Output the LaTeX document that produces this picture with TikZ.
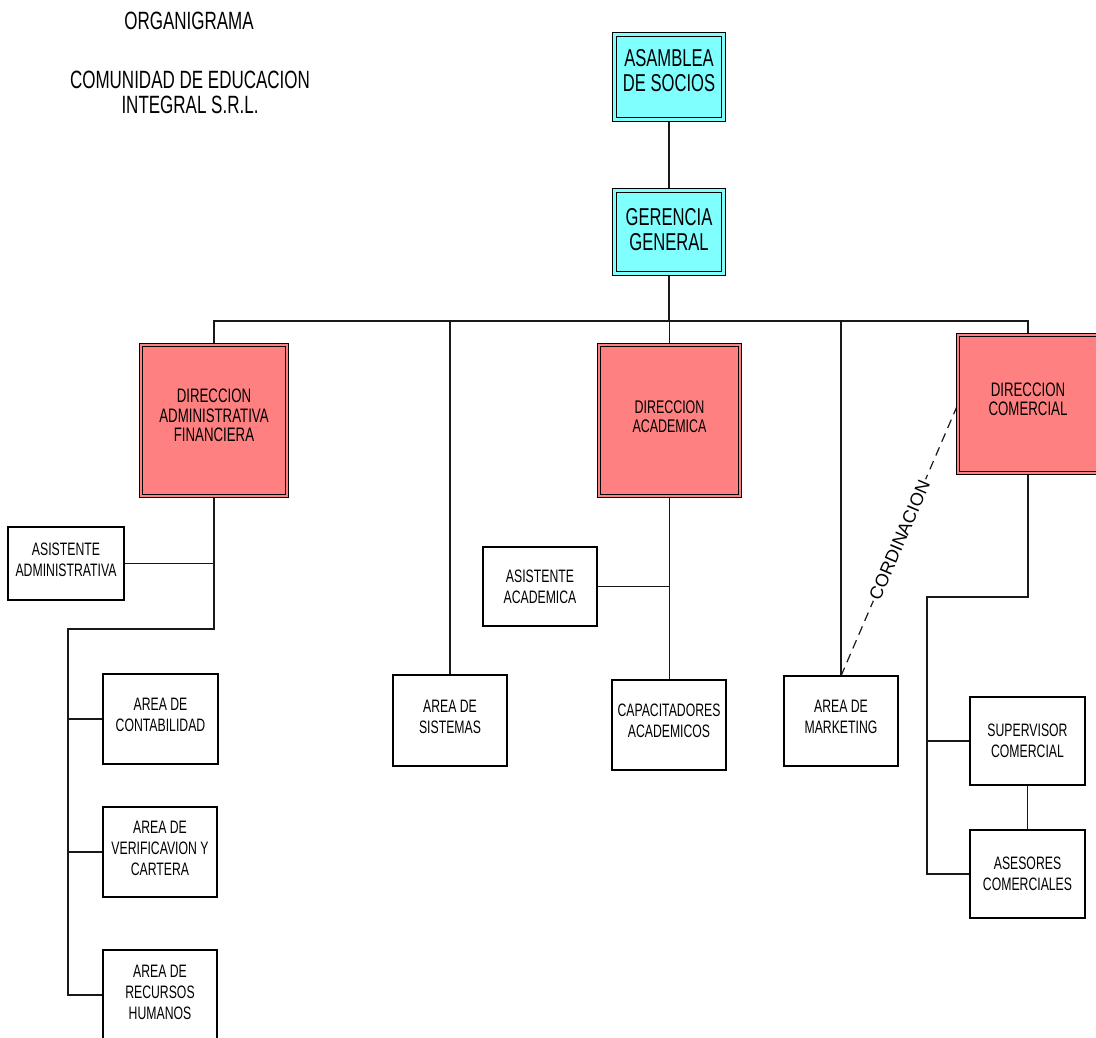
\documentclass[tikz,border=0pt]{standalone}
\usepackage{fontspec}
\setmainfont{Liberation Sans}[FakeStretch=0.68]
\newfontfamily\slantlabel{Liberation Sans}
\usetikzlibrary{backgrounds}
\definecolor{boardcyan}{HTML}{80FFFF}
\definecolor{dirred}{HTML}{FF8080}
% invisible strut that moves a box's text upward by half its depth
\newcommand\txtlift[1]{\rule[-#1]{0pt}{#1}}

\begin{document}
\begin{tikzpicture}[x=1pt,y=-1pt,
  link/.style={line width=1.4pt, draw=black!90},
  unitbox/.style={draw=black, line width=1.4pt, fill=white, inner sep=0pt,
    outer sep=0pt, align=center, minimum width=115pt, minimum height=90pt,
    font=\fontsize{18}{20.7}\selectfont},
  topbox/.style={draw=black, line width=1.2pt, double=boardcyan,
    double distance=2.8pt, fill=boardcyan, inner sep=0pt, outer sep=0pt,
    align=center, minimum width=108.8pt,
    font=\fontsize{24.4}{25}\selectfont},
  dirbox/.style={draw=black, line width=1pt, double=dirred,
    double distance=2pt, fill=dirred, inner sep=0pt, outer sep=0pt,
    align=center, font=\fontsize{19.5}{19.5}\selectfont},
  titletext/.style={align=center, inner sep=0pt,
    font=\fontsize{25}{25}\selectfont},
  coordlabel/.style={fill=white, inner sep=2pt, sloped,
    font=\slantlabel\fontsize{18}{18}\selectfont}
]
\useasboundingbox (0,0) rectangle (1096,1038);
\clip (0,0) rectangle (1096,1038);

% heading
\node[titletext] (title) at (189,21) {ORGANIGRAMA};
\node[titletext] (company) at (190,92.5) {COMUNIDAD DE EDUCACION\\INTEGRAL S.R.L.};

% board and general management
\node[topbox, minimum height=84.8pt] (asamblea) at (669,77)
  {ASAMBLEA\\DE SOCIOS\txtlift{14pt}};
\node[topbox, minimum height=82.8pt] (gerencia) at (669,232)
  {GERENCIA\\GENERAL\txtlift{6pt}};

% directorates
\node[dirbox, minimum width=146pt, minimum height=151pt] (daf) at (214,420.5)
  {DIRECCION\\ADMINISTRATIVA\\FINANCIERA\txtlift{10pt}};
\node[dirbox, minimum width=141pt, minimum height=151pt,
  font=\fontsize{18.3}{19.5}\selectfont] (da) at (669.5,420.5)
  {DIRECCION\\ACADEMICA\txtlift{8pt}};
\node[dirbox, minimum width=140pt, minimum height=138pt] (dc) at (1028,404)
  {DIRECCION\\COMERCIAL\txtlift{10pt}};

% administrative and financial units
\node[unitbox, minimum width=116pt, minimum height=73pt] (asisadm) at (66,563.5)
  {ASISTENTE\\ADMINISTRATIVA\txtlift{7pt}};
\node[unitbox] (contab) at (160.5,719) {AREA DE\\CONTABILIDAD\txtlift{8pt}};
\node[unitbox, minimum width=114pt] (verif) at (160,852)
  {AREA DE\\VERIFICAVION Y\\CARTERA\txtlift{7pt}};
\node[unitbox, minimum width=114pt] (rrhh) at (160,995)
  {AREA DE\\RECURSOS\\HUMANOS\txtlift{5pt}};

% independent areas
\node[unitbox, minimum width=114pt, minimum height=91pt] (sistemas) at (450,720.5)
  {AREA DE\\SISTEMAS\txtlift{7pt}};
\node[unitbox, minimum width=114pt] (marketing) at (841,721)
  {AREA DE\\MARKETING\txtlift{8pt}};

% academic units
\node[unitbox, minimum width=114pt, minimum height=79pt] (asisacad) at (540,586.5)
  {ASISTENTE\\ACADEMICA};
\node[unitbox, minimum width=114pt] (capac) at (669,725)
  {CAPACITADORES\\ACADEMICOS\txtlift{9pt}};

% commercial units
\node[unitbox, minimum height=88pt] (superv) at (1027.5,741)
  {SUPERVISOR\\COMERCIAL};
\node[unitbox, minimum height=88pt] (asesores) at (1027.5,874)
  {ASESORES\\COMERCIALES};

% connectors
\coordinate (bus) at (0,321);
\coordinate (admspine) at (68,629);
\coordinate (comspine) at (927,597);
\begin{scope}[on background layer]
  \draw[link] (asamblea.south) -- (gerencia.north);
  \draw[link] (gerencia.south) -- (gerencia.south |- bus);
  \draw[link] (daf.north) |- (bus -| dc.north) -- (dc.north);
  \draw[link] (sistemas.north) -- (sistemas.north |- bus);
  \draw[link] (da.north) -- (da.north |- bus);
  \draw[link] (marketing.north) -- (marketing.north |- bus);

  \draw[link] (daf.south) |- (admspine) -- (admspine |- rrhh.west) -- (rrhh.west);
  \draw[link] (asisadm.east) -- (asisadm.east -| daf.south);
  \draw[link] (contab.west) -- (contab.west -| admspine);
  \draw[link] (verif.west) -- (verif.west -| admspine);

  \draw[link] (da.south) -- (da.south |- capac.north);
  \draw[link] (asisacad.east) -- (asisacad.east -| da.south);

  \draw[link] (dc.south) |- (comspine) -- (comspine |- asesores.west) -- (asesores.west);
  \draw[link] (superv.west) -- (superv.west -| comspine);
  \draw[link] (superv.south) -- (asesores.north);

  \draw[link, line width=1.2pt, dash pattern=on 9pt off 6pt] (marketing.north) -- (dc.west)
    node[coordlabel, midway] (coord) {CORDINACION};
\end{scope}
\end{tikzpicture}
\end{document}
